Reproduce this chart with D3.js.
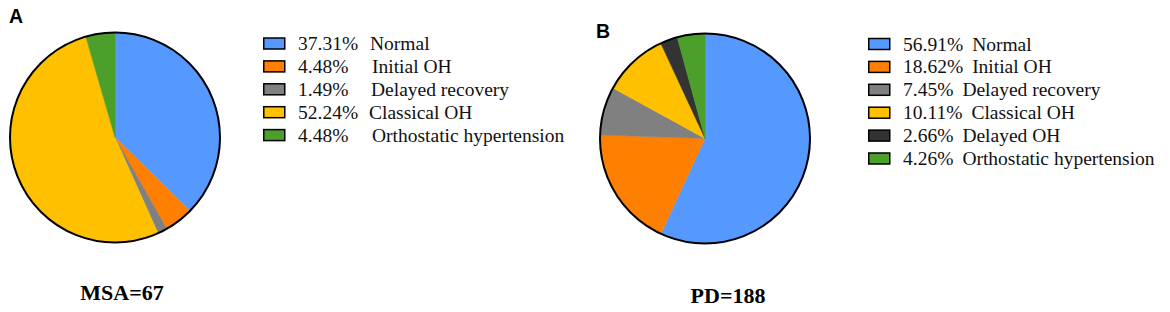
<!DOCTYPE html>
<html>
<head>
<meta charset="utf-8">
<script src="https://cdn.jsdelivr.net/npm/d3@7"></script>
<style>
  body { margin: 0; background: #fff; }
  svg { display: block; }
</style>
</head>
<body>
<div id="chart"></div>
<script>
// Data
const labelsA = ["Normal", "Initial OH", "Delayed recovery", "Classical OH", "Orthostatic hypertension"];
const valuesA = [37.31, 4.48, 1.49, 52.24, 4.48];
const colorsA = ["#5599ff", "#ff8000", "#808080", "#ffc000", "#4c9f2a"];

const labelsB = ["Normal", "Initial OH", "Delayed recovery", "Classical OH", "Delayed OH", "Orthostatic hypertension"];
const valuesB = [56.91, 18.62, 7.45, 10.11, 2.66, 4.26];
const colorsB = ["#5599ff", "#ff8000", "#808080", "#ffc000", "#333333", "#4c9f2a"];

const width = 1170, height = 312;

const svg = d3.select("#chart")
    .append("svg")
    .attr("width", width)
    .attr("height", height);

const serif = "'Liberation Serif', 'Times New Roman', Times, serif";

function drawPanel(opts) {
    const g = svg.append("g");

    // panel letter
    g.append("text")
        .attr("x", opts.letterX)
        .attr("y", opts.letterY)
        .style("font-family", "'Liberation Sans', Arial, sans-serif")
        .style("font-weight", "bold")
        .style("font-size", "19.5px")
        .text(opts.letter);

    // pie
    const pie = d3.pie().sort(null).value(d => d.v);
    const arc = d3.arc().innerRadius(0).outerRadius(opts.r);
    const data = opts.labels.map((l, i) => ({label: l, v: opts.values[i], c: opts.colors[i]}));

    const pg = g.append("g").attr("transform", `translate(${opts.cx},${opts.cy})`);
    pg.selectAll("path")
        .data(pie(data))
        .join("path")
        .attr("d", arc)
        .attr("fill", d => d.data.c)
        .attr("stroke", d => d.data.c)
        .attr("stroke-width", 0.5);
    pg.append("circle")
        .attr("r", opts.r)
        .attr("fill", "none")
        .attr("stroke", "#000")
        .attr("stroke-width", 2);

    // legend
    const y = d3.scaleLinear().domain([0, 1]).range([opts.legY, opts.legY + opts.legStep]);
    const rows = g.selectAll("g.leg")
        .data(data)
        .join("g")
        .attr("class", "leg")
        .attr("transform", (d, i) => `translate(${opts.legX},${y(i)})`);
    rows.append("rect")
        .attr("x", 0.75)
        .attr("y", -5.5)
        .attr("width", 21)
        .attr("height", 11)
        .attr("fill", d => d.c)
        .attr("stroke", "#000")
        .attr("stroke-width", 1.5);
    const t = rows.append("text")
        .attr("x", 35)
        .attr("y", 6.5)
        .style("font-family", serif)
        .style("font-size", "19.5px")
        .style("fill", "#111");
    if (opts.nameCol) {
        t.text(d => d.v.toFixed(2) + "%");
        rows.append("text")
            .attr("x", (d, i) => opts.nameCol[i])
            .attr("y", 6.5)
            .style("font-family", serif)
            .style("font-size", "19.5px")
            .style("fill", "#111")
            .text(d => d.label);
    } else {
        t.append("tspan").text(d => d.v.toFixed(2) + "%");
        t.append("tspan").attr("dx", 9).text(d => d.label);
    }

    // caption
    g.append("text")
        .attr("x", opts.capX)
        .attr("y", opts.capY)
        .attr("text-anchor", "middle")
        .style("font-family", serif)
        .style("font-weight", "bold")
        .style("font-size", "22px")
        .text(opts.caption);
}

drawPanel({
    letter: "A", letterX: 9, letterY: 23,
    labels: labelsA, values: valuesA, colors: colorsA,
    cx: 115, cy: 137.5, r: 105,
    legX: 263, legY: 43.5, legStep: 22.9,
    nameCol: [107, 109, 108, 106, 109],
    caption: "MSA=67", capX: 122, capY: 300
});

drawPanel({
    letter: "B", letterX: 596, letterY: 38,
    labels: labelsB, values: valuesB, colors: colorsB,
    cx: 705, cy: 138.5, r: 105,
    legX: 868, legY: 44, legStep: 22.9,
    caption: "PD=188", capX: 728, capY: 303
});
</script>
</body>
</html>
